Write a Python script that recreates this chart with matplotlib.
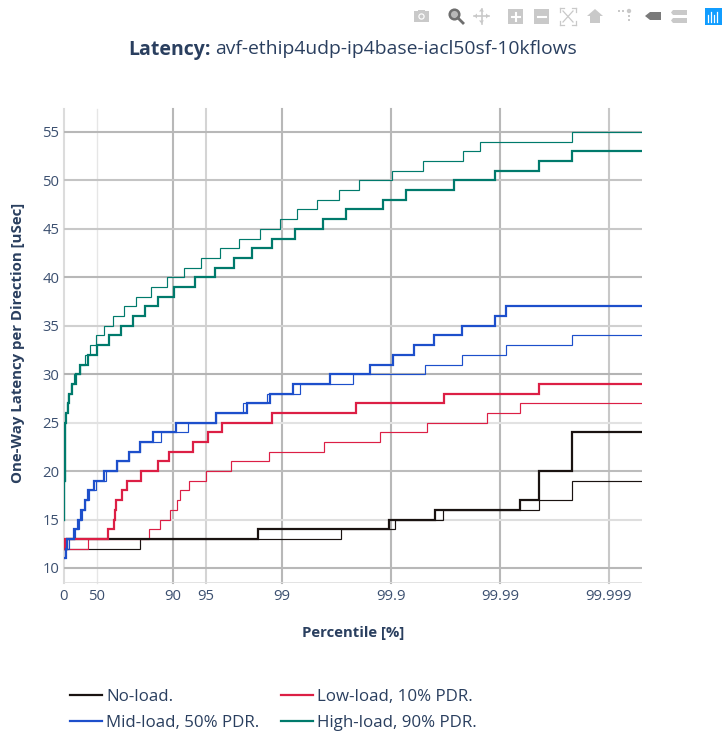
import matplotlib
matplotlib.use("Agg")
import matplotlib.pyplot as plt
from matplotlib.patches import Rectangle, Circle, Polygon

plt.rcParams['font.family'] = ['Open Sans', 'DejaVu Sans']

W, H = 724, 736
TEXT = '#2a3f5f'

tick_labels = ['0', '50', '90', '95', '99', '99.9', '99.99', '99.999']
tick_nines = [0, 0.301, 1, 1.301, 2, 3, 4, 5]
x_grid_colors = ['#dcdcdc', '#e6e6e6', '#b8b8b8', '#d4d4d4', '#b8b8b8', '#b8b8b8', '#b8b8b8', '#c8c8c8']
y_ticks = [10, 15, 20, 25, 30, 35, 40, 45, 50, 55]
y_grid_colors = ['#b8b8b8', '#dedede', '#bcbcbc', '#e2e2e2', '#b4b4b4', '#d0d0d0', '#b8b8b8', '#c8c8c8', '#c4c4c4', '#b8b8b8']
x_end = 5.303

no_load_thin_x = [0, 0.694, 2.538, 3.033, 3.480, 4.354, 4.661]
no_load_thin_y = [12, 13, 14, 15, 16, 17, 19]
no_load_x = [0, 0.028, 1.776, 2.984, 3.400, 4.180, 4.354, 4.661]
no_load_y = [12, 13, 14, 15, 16, 17, 20, 24]

low_thin_x = [0, 0.217, 0.780, 0.883, 0.969, 1.037, 1.061, 1.143, 1.299, 1.535, 1.877, 2.382, 2.902, 3.333, 3.881, 4.180]
low_thin_y = [12, 13, 14, 15, 16, 17, 18, 19, 20, 21, 22, 23, 24, 25, 26, 27]
low_x = [0, 0.012, 0.406, 0.455, 0.464, 0.473, 0.528, 0.578, 0.709, 0.862, 0.963, 1.180, 1.317, 1.446, 1.911, 2.675, 3.483, 4.354]
low_y = [12, 13, 14, 15, 16, 17, 18, 19, 20, 21, 22, 23, 24, 25, 26, 27, 28, 29]

mid_thin_x = [0, 0.012, 0.042, 0.099, 0.136, 0.163, 0.195, 0.228, 0.294, 0.388, 0.486, 0.599, 0.700, 0.890, 1.134, 1.394, 1.639, 1.862, 2.161, 2.651, 3.315, 3.654, 4.055, 4.657]
mid_thin_y = [11, 12, 13, 14, 15, 16, 17, 18, 19, 20, 21, 22, 23, 24, 25, 26, 27, 28, 29, 30, 31, 32, 33, 34]
mid_x = [0, 0.015, 0.030, 0.092, 0.127, 0.159, 0.190, 0.219, 0.272, 0.363, 0.486, 0.599, 0.700, 0.819, 1.030, 1.394, 1.679, 1.893, 2.101, 2.437, 2.810, 3.018, 3.207, 3.397, 3.654, 3.957, 4.055]
mid_y = [11, 12, 13, 14, 15, 16, 17, 18, 19, 20, 21, 22, 23, 24, 25, 26, 27, 28, 29, 30, 31, 32, 33, 34, 35, 36, 37]

high_thin_x = [0, 0.001, 0.002, 0.003, 0.004, 0.005, 0.006, 0.007, 0.008, 0.009, 0.010, 0.012, 0.025, 0.040, 0.065, 0.095, 0.143, 0.189, 0.235, 0.294, 0.367, 0.450, 0.547, 0.663, 0.801, 0.948, 1.097, 1.260, 1.428, 1.606, 1.801, 1.984, 2.138, 2.324, 2.523, 2.709, 3.009, 3.294, 3.657, 3.813, 4.661]
high_thin_y = [15, 16, 17, 18, 19, 20, 21, 22, 23, 24, 25, 26, 27, 28, 29, 30, 31, 32, 33, 34, 35, 36, 37, 38, 39, 40, 41, 42, 43, 44, 45, 46, 47, 48, 49, 50, 51, 52, 53, 54, 55]
high_x = [0, 0.001, 0.002, 0.003, 0.004, 0.005, 0.006, 0.007, 0.008, 0.009, 0.010, 0.015, 0.033, 0.049, 0.076, 0.110, 0.150, 0.220, 0.303, 0.416, 0.526, 0.633, 0.739, 0.862, 1.012, 1.198, 1.388, 1.556, 1.728, 1.908, 2.122, 2.372, 2.587, 2.923, 3.138, 3.578, 3.957, 4.354, 4.661]
high_y = [15, 16, 17, 18, 19, 20, 21, 22, 23, 24, 25, 26, 27, 28, 29, 30, 31, 32, 33, 34, 35, 36, 37, 38, 39, 40, 41, 42, 43, 44, 45, 46, 47, 48, 49, 50, 51, 52, 53]

series = [
    ('No-load.', '#1a1311', no_load_x, no_load_y, no_load_thin_x, no_load_thin_y),
    ('Low-load, 10% PDR.', '#dc1f45', low_x, low_y, low_thin_x, low_thin_y),
    ('Mid-load, 50% PDR.', '#1d4fcb', mid_x, mid_y, mid_thin_x, mid_thin_y),
    ('High-load, 90% PDR.', '#007a6c', high_x, high_y, high_thin_x, high_thin_y),
]

fig = plt.figure(figsize=(W / 100, H / 100), dpi=100, facecolor='white')
left, right, top, bottom = 64.0, 642, 109, 583
ax = fig.add_axes([left / W, 1 - bottom / H, (right - left) / W, (bottom - top) / H])
ax.set_xlim(0, x_end)
ax.set_ylim(8.45, 57.37)

for s in ax.spines.values():
    s.set_visible(False)
for t, c in zip(tick_nines, x_grid_colors):
    ax.axvline(t, color=c, lw=1.5 if t != 0.301 else 1.0, zorder=1, clip_on=False)
for t, c in zip(y_ticks, y_grid_colors):
    ax.axhline(t, color=c, lw=1.5, zorder=1)
ax.axhline(8.45, color='#e0e0e0', lw=2.0, zorder=2, clip_on=True)

ax.set_xticks(tick_nines)
ax.set_xticklabels(tick_labels)
ax.set_yticks(y_ticks)
ax.tick_params(axis='both', length=0, labelsize=10.7, labelcolor='#3c5070')
ax.tick_params(axis='x', pad=4)
ax.tick_params(axis='y', pad=3.5)

handles = {}
for name, col, xs, ys, xt, yt in series:
    ax.step(list(xt) + [x_end], list(yt) + [yt[-1]], where='post', color=col, lw=0.85, zorder=3,
            solid_joinstyle='miter')
for name, col, xs, ys, xt, yt in series:
    ln, = ax.step(list(xs) + [x_end], list(ys) + [ys[-1]], where='post', color=col, lw=1.6, zorder=4,
                  solid_joinstyle='miter', label=name)
    handles[name] = ln

ax.set_xlabel('Percentile [%]', fontsize=10.7, fontweight='bold', color=TEXT, labelpad=0)
ax.xaxis.set_label_coords((353 - left) / (right - left), (bottom - 632.5) / (bottom - top), transform=ax.transAxes)
ax.xaxis.label.set_verticalalignment('center')
ax.set_ylabel('One-Way Latency per Direction [uSec]', fontsize=10.85, fontweight='bold', color=TEXT)
ax.yaxis.set_label_coords((18 - left) / (right - left), (bottom - 343) / (bottom - top), transform=ax.transAxes)
ax.yaxis.label.set_verticalalignment('center')

order = ['No-load.', 'Mid-load, 50% PDR.', 'Low-load, 10% PDR.', 'High-load, 90% PDR.']
leg = fig.legend([handles[n] for n in order], order, ncol=2, frameon=False,
                 loc='upper left', bbox_to_anchor=(65 / W, 1 - 684 / H), borderaxespad=0, borderpad=0.3,
                 fontsize=12.2, labelcolor=TEXT, handlelength=1.9, handletextpad=0.22,
                 columnspacing=1.26, labelspacing=0.56)

# Overlay in pixel coordinates: title and modebar
ov = fig.add_axes([0, 0, 1, 1], facecolor='none', zorder=5)
ov.set_xlim(0, W)
ov.set_ylim(H, 0)
ov.axis('off')
ov.text(128.5, 49.5, 'Latency:', fontsize=14, fontweight='bold', color=TEXT, va='center', ha='left')
ov.text(215.5, 49.5, 'avf-ethip4udp-ip4base-iacl50sf-10kflows', fontsize=13.9, color=TEXT, va='center', ha='left')

G = '#c9c9c9'
# camera
ov.add_patch(Rectangle((414, 11), 15, 11, color=G, lw=0))
ov.add_patch(Rectangle((418, 9.5), 7, 2, color=G, lw=0))
ov.add_patch(Circle((421.5, 16.5), 3.2, fc='white', ec='none'))
ov.add_patch(Circle((421.5, 16.5), 2, fc=G, ec='none'))
# zoom (active)
D = '#6e6e6e'
ov.add_patch(Circle((454.5, 14.5), 4.8, fc='#b8b8b8', ec=D, lw=1.8))
ov.plot([458, 463], [18, 23], color=D, lw=2)
# pan
ov.plot([474, 489], [16, 16], color=G, lw=1.2)
ov.plot([481.5, 481.5], [8.5, 23.5], color=G, lw=1.2)
for pts in ([(474, 16), (477, 13.5), (477, 18.5)], [(489, 16), (486, 13.5), (486, 18.5)],
            [(481.5, 8.5), (479, 11.5), (484, 11.5)], [(481.5, 23.5), (479, 20.5), (484, 20.5)]):
    ov.add_patch(Polygon(pts, color=G, lw=0))
# zoom in / zoom out
ov.add_patch(Rectangle((508, 9), 15, 15, color=G, lw=0))
ov.plot([511.5, 519.5], [16.5, 16.5], color='white', lw=1.5)
ov.plot([515.5, 515.5], [12.5, 20.5], color='white', lw=1.5)
ov.add_patch(Rectangle((534, 9), 15, 15, color=G, lw=0))
ov.plot([537.5, 545.5], [16.5, 16.5], color='white', lw=1.5)
# autoscale
for a, b in (((560, 12), (560, 8)), ((560, 8), (564, 8)), ((572, 8), (576, 8)), ((576, 8), (576, 12)),
             ((560, 21), (560, 25)), ((560, 25), (564, 25)), ((572, 25), (576, 25)), ((576, 25), (576, 21)),
             ((563, 11), (573, 22)), ((573, 11), (563, 22))):
    ov.plot([a[0], b[0]], [a[1], b[1]], color=G, lw=0.9)
# home
ov.add_patch(Polygon([(587, 16), (595, 9), (603, 16), (600, 16), (600, 23), (590, 23), (590, 16)], color=G, lw=0))
# spike lines
ov.add_patch(Circle((629, 11), 2.2, fc=G, ec='none'))
for px, py in ((619, 10.5), (623, 10.5), (629, 16), (629, 20)):
    ov.add_patch(Rectangle((px - 1, py - 1), 2, 2, color=G, lw=0))
# hover closest
ov.add_patch(Polygon([(645, 16), (650, 12), (661, 12), (661, 20), (650, 20)], color='#7a7a7a', lw=0))
# hover compare
ov.add_patch(Polygon([(671, 12.5), (673, 10), (687, 10), (687, 15), (673, 15)], color=G, lw=0))
ov.add_patch(Polygon([(671, 20.5), (673, 18), (687, 18), (687, 23), (673, 23)], color=G, lw=0))
# logo
ov.add_patch(Rectangle((704.5, 8), 17, 17, color='#119dff', lw=0))
for px, y0 in ((708, 15), (711, 12), (714, 15), (717, 12)):
    ov.plot([px, px], [y0, 22], color='white', lw=0.9)

fig.savefig('out.png', dpi=100, facecolor='white')
